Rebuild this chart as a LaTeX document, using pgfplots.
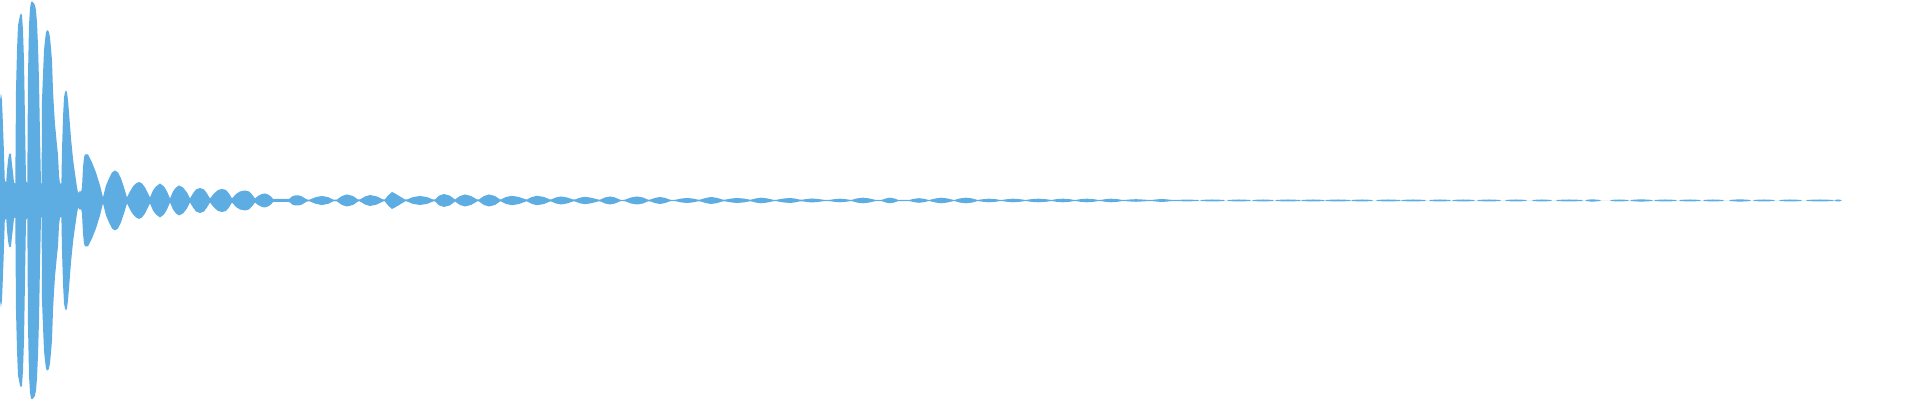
\documentclass[border=0pt]{standalone}
\usepackage{pgfplots}
\usepackage{pgfplotstable}
\pgfplotsset{compat=1.18}
\usepgfplotslibrary{fillbetween}
\definecolor{wave}{RGB}{93,173,226}
\pgfplotstableread{
x h
0 100
1 107
2 100
3 75
4 47
4.8 20
6.2 18
7 30
8 40
9 46
10 47
11 46
12 36
13 28
14 18
15.3 17
16 110
17 150
18 175
19 180
20 185
21 187
22 185
23 170
24 140
25 80
26 20
27.3 17
28 125
29 175
30 192
31 198
32 199
33 198
34 197
35 195
36 190
37 178
38 155
39 120
40 65
41 17
41.6 17
42 100
43 126
44 150
45 160
46 168
47 170
48 170
49 168
50 163
51 152
52 140
53 110
54 92
55 76
56 66
57 55
58 46
59 25
60 17
61.4 17
62 50
63 83
64 103
65 108
66 110
67 108
68 100
69 88
70 75
71 62
72 52
73 42
74 34
75 27
76 20
77 13
78 8
79 8
80 10
81 8
82 13
83 33
84 43
85 46
88 46
92 38
96 28
100 15
103 3
106 15
109 22
112 28
115 30
118 28
121 22
124 13
127 3
130 9
133 14
136 17
139 18.5
142 17
145 13
148 7
150 3
153 10
156 14
160 17
164 14
167 9
170 2
173 9
176 13
179 15
183 13
187 8
190 2
193 7
196 11
200 12.5
204 11
207 7
210 2
214 7
218 10.5
222 11.5
226 10.5
229 7
232 2
236 6.5
240 9
245 10
249 9
252 6
255 2
258 4.5
262 6.5
265 7
268 6
271 4
273 1.5
288 1.5
290 2
292 4
295 5
299 5
302 4
306 1.5
308 0.8
310 1
316 3.4
322 4.5
328 3.4
333 1
335 0.7
337 1
342 4.5
347 6
353 4.5
358 1
360 1
365 4
370 5.5
377 4
383 1
385 1
388 5
392 8.5
395 7
400 4
405 1
407 1
413 3.4
420 4.5
427 3.4
433 1
435 1
439 4.8
444 6.5
450 4.8
455 1
460 4.5
465 6
471 4.5
477 1
479 1
484 4.5
489 6
495 4.5
500 1
501 1
506 3.5
512 4.7
519 3.5
526 1
527 1
532 3.5
537 4.7
544 3.5
550 1
551 1
556 3
561 4
567 3
573 1
575 1
580 2.8
585 3.7
591 2.8
598 1
600 0.8
605 3
610 4
615 3
620 0.8
622 0.5
625 0.8
631 3
637 4
643 3
648 0.8
650 0.8
655 2.6
660 3.5
665 2.6
670 0.8
673 0.5
676 0.8
681 1.9
687 2.5
693 1.9
698 0.8
700 0.8
706 2.6
711 3.5
717 2.6
723 0.8
725 0.8
731 1.9
737 2.5
744 1.9
750 0.8
751 0.8
756 2.1
761 2.8
767 2.1
773 0.8
775 0.5
777 0.8
783 1.9
790 2.5
795 1.9
800 0.8
802 0.8
807 1.5
812 2
818 1.5
823 0.8
826 0.5
830 0.7
835 1.4
840 1.8
845 1.4
850 0.7
852 0.7
857 2.1
863 2.8
869 2.1
875 0.7
878 0.5
882 0.7
886 2.1
890 2.8
894 2.1
898 0.7
904 0.5
910 0.7
914 1.7
919 2.3
924 1.7
928 0.7
930 0.7
936 2.1
941 2.8
947 2.1
953 0.7
955 0.7
960 2.1
966 2.8
972 2.1
977 0.7
978 0.6
984 1.4
989 1.8
995 1.4
1000 0.6
1002 0.6
1008 1.4
1013 1.8
1019 1.4
1025 0.6
1026 0.6
1032 1.4
1038 1.8
1045 1.4
1051 0.6
1052 0.6
1057 1.4
1063 1.8
1069 1.4
1074 0.6
1076 0.6
1081 1.4
1087 1.8
1093 1.4
1098 0.6
1101 0.6
1106 1.4
1111 1.8
1117 1.4
1122 0.6
1125 0.6
1130 1.0
1136 1.3
1142 1.0
1148 0.6
1152 0.6
1157 1.1
1162 1.5
1167 1.1
1172 0.6
1176 0.6
1187 0.9
1198 0.6
1199 0
1200.5 0
1201 0.6
1212 1.0
1224 0.6
1224.5 0
1227.5 0
1228 0.6
1239 1.0
1250 0.6
1250.5 0
1252.5 0
1253 0.6
1263 1.0
1273 0.6
1273.5 0
1275.5 0
1276 0.6
1288 1.0
1300 0.6
1300.5 0
1301.5 0
1302 0.6
1313 1.0
1324 0.6
1324.5 0
1325.5 0
1326 0.6
1338 1.0
1350 0.6
1350.5 0
1351.5 0
1352 0.6
1362 1.0
1372 0.6
1372.5 0
1376.5 0
1377 0.6
1388 1.0
1400 0.6
1400.5 0
1401.5 0
1402 0.6
1413 1.0
1425 0.6
1425.5 0
1429.5 0
1430 0.6
1440 1.0
1450 0.6
1450.5 0
1452.5 0
1453 0.6
1463 1.0
1474 0.6
1474.5 0
1477.5 0
1478 0.6
1489 1.0
1500 0.6
1500.5 0
1505.5 0
1506 0.6
1516 1.0
1526 0.6
1526.5 0
1532.5 0
1533 0.6
1542 1.0
1551 0.6
1551.5 0
1556.5 0
1557 0.6
1569 1.0
1582 0.6
1582.5 0
1585.5 0
1586 0.6
1592 1.2
1600 0.6
1600.5 0
1610.5 0
1611 0.6
1619 1.0
1628 0.6
1628.5 0
1630.5 0
1631 0.6
1641 1.2
1652 0.6
1652.5 0
1654.5 0
1655 0.6
1665 1.0
1676 0.6
1676.5 0
1679.5 0
1680 0.6
1690 1.0
1700 0.6
1700.5 0
1703.5 0
1704 0.6
1713 1.0
1723 0.6
1723.5 0
1729.5 0
1730 0.6
1740 1.2
1750 0.6
1750.5 0
1753.5 0
1754 0.6
1764 1.0
1774 0.6
1774.5 0
1779.5 0
1780 0.6
1790 1.0
1801 0.6
1801.5 0
1806.5 0
1807 0.6
1820 1.0
1833 0.6
1833.5 0
1834.5 0
1835 0.6
1838 1.0
1841 0.6
1841.5 0
}\wavedata
\begin{document}
\begin{tikzpicture}
\begin{axis}[
  scale only axis,
  width=19.2cm, height=4cm,
  xmin=0, xmax=1920, ymin=-199.5, ymax=200.5,
  hide axis,
  clip=true,
]
\addplot[draw=none, name path=U] table[x=x, y=h] {\wavedata};
\addplot[draw=none, name path=L] table[x=x, y expr=-\thisrow{h}] {\wavedata};
\addplot[fill=wave, draw=none] fill between[of=U and L];
\end{axis}
\end{tikzpicture}
\end{document}
